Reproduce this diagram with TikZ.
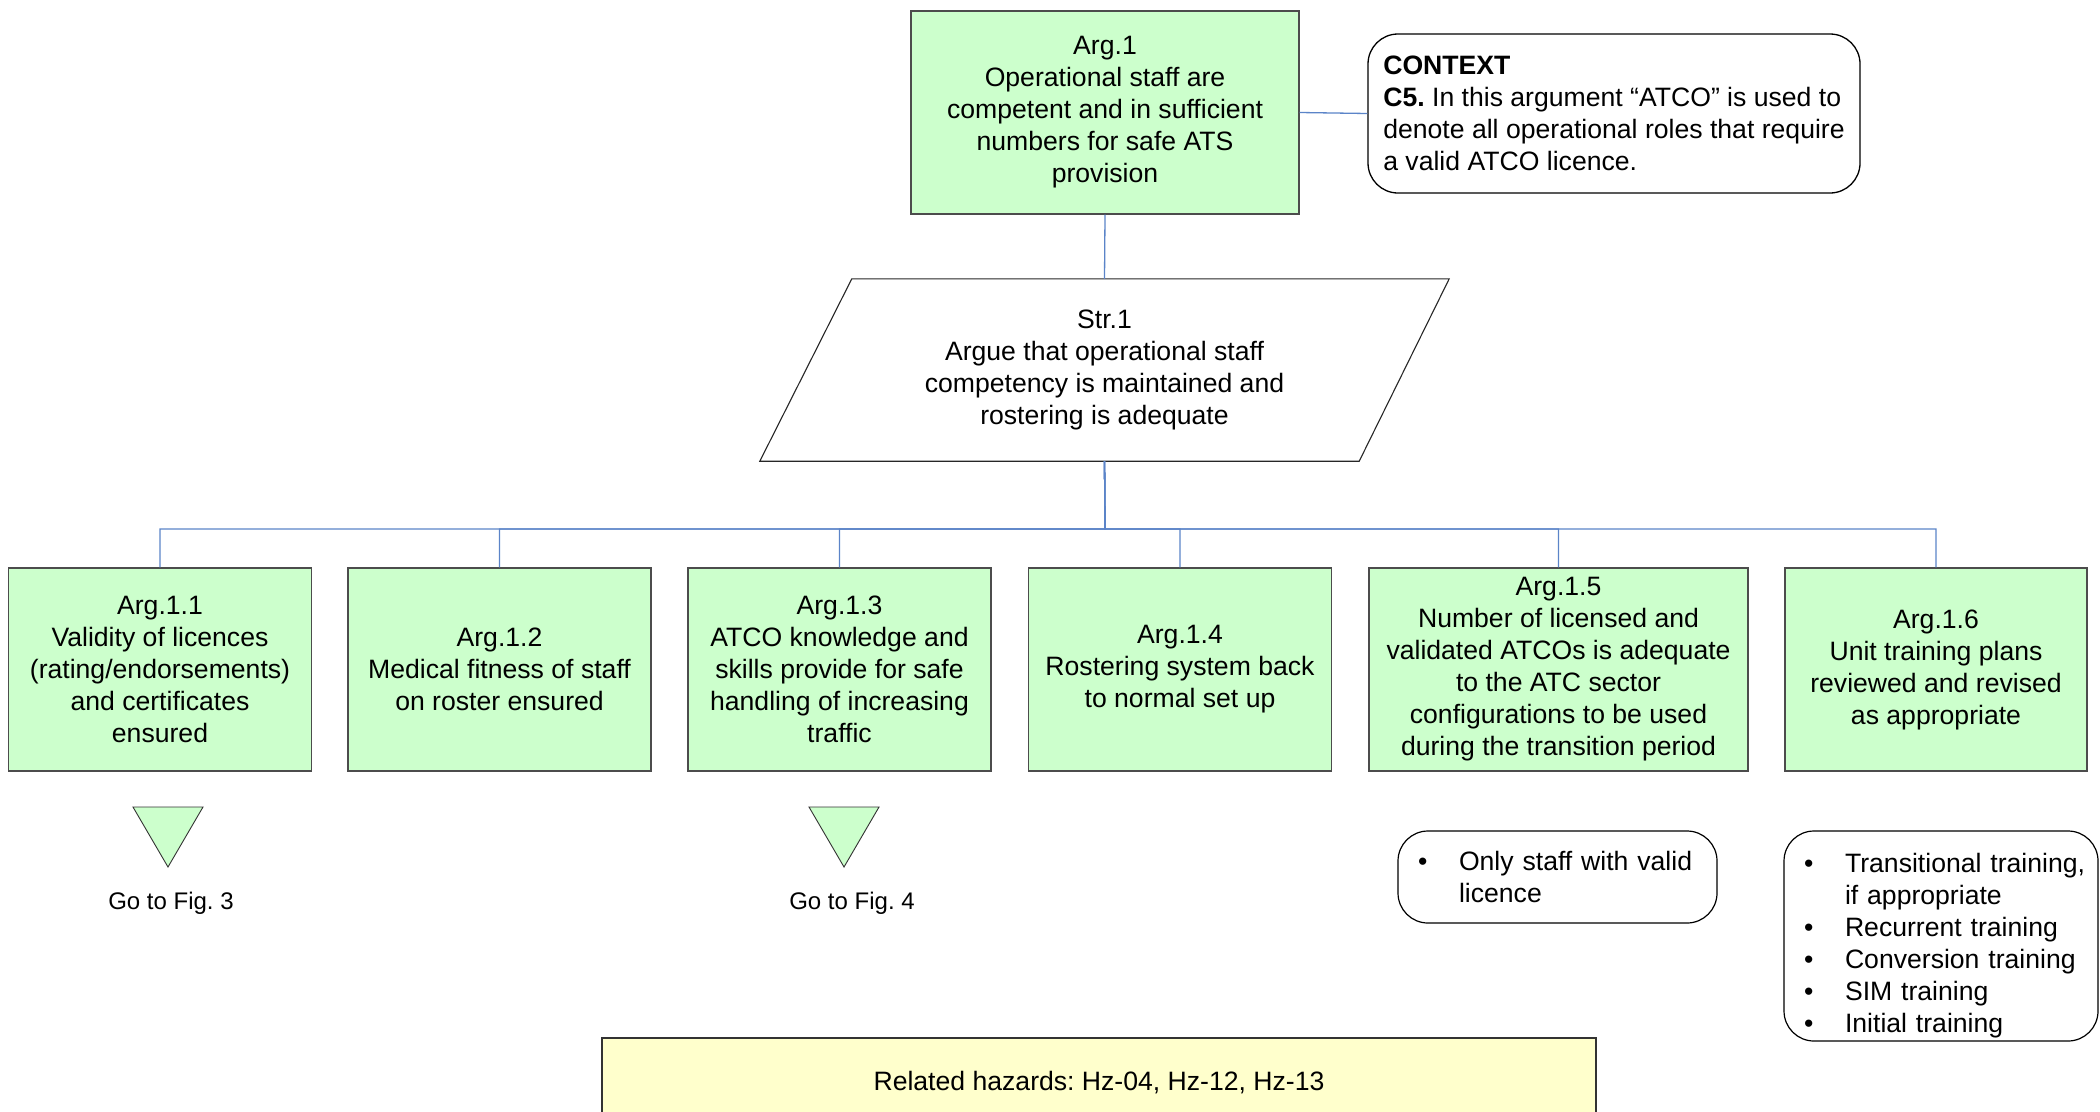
\documentclass[tikz,border=0pt]{standalone}
\usepackage{fontspec}
\setmainfont{Liberation Sans}
\definecolor{argfill}{HTML}{CCFFCC}
\definecolor{hzfill}{HTML}{FFFFCC}
\definecolor{linkblue}{HTML}{5B84C8}
% bullet item and continuation indent for the note boxes
\newcommand\itm{\makebox[51pt][l]{\hspace*{10pt}\textbullet}}
\newcommand\cnt{\hspace*{51pt}}
\frenchspacing
\begin{document}
\begin{tikzpicture}[x=1pt,y=-1pt,
  every node/.style={font=\fontsize{26.6}{32}\selectfont, inner sep=0pt},
  argbox/.style={draw=black!70, line width=1.3pt, fill=argfill, align=center,
                 minimum height=203pt},
  notebox/.style={draw=black, line width=1.2pt, rounded corners=30pt, align=left,
                  inner xsep=10pt},
  conn/.style={draw=linkblue, line width=1.3pt},
  tri/.style={draw=black!80, line width=0.9pt, fill=argfill},
  golabel/.style={font=\fontsize{24}{29}\selectfont},
  strpath/.style={draw=black!85, line width=1.1pt}]
\clip (0,0) rectangle (2100,1111);

% top-level argument and its context
\node[argbox, minimum width=388pt] (a1) at (1105,112.5)
  {Arg.1\\Operational staff are\\competent and in sufficient\\numbers for safe ATS\\provision};
\node[draw=black, line width=1.3pt, rounded corners=30pt, align=left,
      minimum width=492pt, minimum height=159pt]
  (ctx) at (1614,113.5)
  {\textbf{CONTEXT}\\\textbf{C5.} In this argument “ATCO” is used to\\denote all operational roles that require\\a valid ATCO licence.};

% strategy (parallelogram drawn around the text node)
\node[align=center, minimum width=689pt, minimum height=182pt] (str) at (1104.5,370)
  {Str.1\\Argue that operational staff\\competency is maintained and\\rostering is adequate};
\draw[strpath] (str.south west) -- ([xshift=-90pt]str.south east) -- (str.north east)
  -- ([xshift=92pt]str.north west) -- cycle;

% sub-arguments
\node[argbox, minimum width=303pt] (a11) at (160,669.5)
  {Arg.1.1\\Validity of licences\\(rating/endorsements)\\and certificates\\ensured};
\node[argbox, minimum width=303pt] (a12) at (499.5,669.5)
  {Arg.1.2\\Medical fitness of staff\\on roster ensured};
\node[argbox, minimum width=303pt] (a13) at (839.5,669.5)
  {Arg.1.3\\ATCO knowledge and\\skills provide for safe\\handling of increasing\\traffic};
\node[argbox, minimum width=303pt] (a14) at (1180,669.5)
  {Arg.1.4\\Rostering system back\\to normal set up};
\node[argbox, minimum width=379pt] (a15) at (1558.5,669.5)
  {Arg.1.5\\Number of licensed and\\validated ATCOs is adequate\\to the ATC sector\\configurations to be used\\during the transition period};
\node[argbox, minimum width=302pt] (a16) at (1936,669.5)
  {Arg.1.6\\Unit training plans\\reviewed and revised\\as appropriate};

% connectors
\coordinate (bus) at (1105,529);
\draw[conn] (a1.south) -- (str.north);
\draw[conn] (a1.east) -- (ctx.west);
\foreach \c in {a11,a12,a13,a14,a15,a16}
  \draw[conn] (str.south) -- (bus) -| (\c.north);

% off-page references
\draw[tri] (133,807) -- (203,807) -- (168,867) -- cycle;
\node[golabel] (g3) at (171,903) {Go to Fig. 3};
\draw[tri] (809,807) -- (879,807) -- (844,867) -- cycle;
\node[golabel] (g4) at (852,903) {Go to Fig. 4};

% notes
\node[notebox, minimum width=319pt, minimum height=92pt, text width=299pt]
  (n15) at (1557.5,877)
  {\itm Only staff with valid\\\cnt licence};
\node[notebox, minimum width=314pt, minimum height=210pt, text width=294pt]
  (n16) at (1941,936)
  {\rule{0pt}{38pt}\itm Transitional training,\\\cnt if appropriate\\\itm Recurrent training\\\itm Conversion training\\\itm SIM training\\\itm Initial training};

% hazards
\node[draw=black!80, line width=1.3pt, fill=hzfill, minimum width=994pt,
      minimum height=90pt] (hz) at (1099,1083) {Related hazards: Hz-04, Hz-12, Hz-13};
\end{tikzpicture}
\end{document}
